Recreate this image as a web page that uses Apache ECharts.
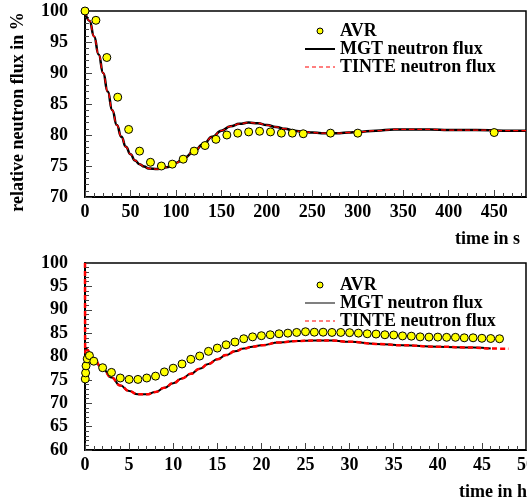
<!DOCTYPE html>
<html><head><meta charset="utf-8">
<script src="https://cdn.jsdelivr.net/npm/echarts@6/dist/echarts.min.js"></script>
<style>html,body{margin:0;padding:0;background:#fff}#c{width:527px;height:502px}</style>
</head><body><div id="c"></div>
<script>
// ---- top panel (time in s) ----
const topAvrTime = [0,12,24,36,48,60,72,84,96,108,120,132,144,156,168,180,192,204,216,228,240,270,300,450];
const topAvrFlux = [100,98.5,92.5,86.1,80.9,77.4,75.6,75.0,75.3,76.1,77.4,78.3,79.3,80.0,80.3,80.5,80.6,80.5,80.3,80.3,80.2,80.3,80.3,80.4];
const topMgtTime = [0,5,10,15,20,25,30,35,40,45,50,55,60,65,70,80,90,100,110,120,130,140,150,160,170,180,190,200,210,220,230,240,250,260,270,280,290,300,320,340,360,380,400,430,460,485];
const topMgtFlux = [100,98.4,95.9,93.0,90.0,87.0,84.0,81.6,79.7,78.1,76.9,75.9,75.3,74.9,74.6,74.5,74.8,75.5,76.4,77.4,78.5,79.7,80.7,81.4,81.8,82.0,81.9,81.6,81.3,81.0,80.7,80.5,80.4,80.3,80.3,80.3,80.4,80.5,80.7,80.9,80.9,80.9,80.8,80.8,80.7,80.7];
const topTinteTime = [0,5,10,15,20,25,30,35,40,45,50,55,60,65,70,80,90,100,110,120,130,140,150,160,170,180,190,200,210,220,230,240,250,260,270,280,290,300,320,340,360,380,400,430,460,485];
const topTinteFlux = [100,98.4,95.9,93.0,90.0,87.0,84.0,81.6,79.7,78.1,76.9,75.9,75.3,74.9,74.6,74.5,74.8,75.5,76.4,77.4,78.5,79.7,80.7,81.4,81.8,82.0,81.9,81.6,81.3,81.0,80.7,80.5,80.4,80.3,80.3,80.3,80.4,80.5,80.7,80.9,80.9,80.9,80.8,80.8,80.7,80.7];

// ---- bottom panel (time in h) ----
const botAvrTime = [0.03,0.07,0.12,0.25,0.5,1,2,3,4,5,6,7,8,9,10,11,12,13,14,15,16,17,18,19,20,21,22,23,24,25,26,27,28,29,30,31,32,33,34,35,36,37,38,39,40,41,42,43,44,45,46,47];
const botAvrFlux = [75.2,76.5,78.0,79.5,80.2,79.0,77.6,76.6,75.4,75.1,75.1,75.4,75.8,76.7,77.5,78.4,79.4,80.1,81.1,81.8,82.5,83.1,83.8,84.2,84.45,84.65,84.86,85.0,85.15,85.3,85.2,85.2,85.15,85.15,85.1,85.0,84.86,84.8,84.65,84.6,84.4,84.35,84.2,84.15,84.15,84.1,84.1,84.0,84.0,83.9,83.85,83.8];
const botMgtTime = [0,0.1,0.3,0.6,1,2,3,4,5,6,7,8,9,10,11,12,13,14,15,16,17,18,19,20,22,24,26,28,30,33,36,40,44,46];
const botMgtFlux = [81.0,81.8,81.4,80.4,79.3,77.4,75.5,73.8,72.6,71.9,71.9,72.4,73.3,74.3,75.3,76.3,77.4,78.4,79.4,80.3,81.1,81.7,82.1,82.4,83.0,83.3,83.4,83.4,83.15,82.7,82.4,82.1,81.9,81.7];
const botTinteTime = [0,0.02,0.1,0.3,0.6,1,2,3,4,5,6,7,8,9,10,11,12,13,14,15,16,17,18,19,20,22,24,26,28,30,33,36,40,44,46,48];
const botTinteFlux = [100,80.8,81.8,81.4,80.4,79.3,77.4,75.5,73.8,72.6,71.9,71.9,72.4,73.3,74.3,75.3,76.3,77.4,78.4,79.4,80.3,81.1,81.7,82.1,82.4,83.0,83.3,83.4,83.4,83.15,82.7,82.4,82.1,81.9,81.7,81.65];

const seriesNames = ['AVR','MGT neutron flux','TINTE neutron flux'];
const F = '"Liberation Serif", serif';
const pairs = (xs, ys) => xs.map((x, i) => [x, ys[i]]);
const txt = {fontFamily: F, fontWeight: 'bold', fontSize: 18, color: '#000'};
const tickCol = '#444';
const solidIcon = 'path://M0,0h30v2h-30z';
const thinIcon = 'path://M0,0h30v1h-30z';
const dashIcon = 'path://M0,0h4v1h-4z M7,0h4v1h-4z M14,0h4v1h-4z M21,0h4v1h-4z M28,0h2v1h-2z';

function yAxisCfg(grid, min, max, name) {
  const a = {
    gridIndex: grid, type: 'value', min: min, max: max, interval: 5,
    axisLine: {show: true, lineStyle: {color: '#000', width: 2}},
    axisTick: {show: true, inside: true, length: 7, lineStyle: {color: tickCol, width: 1}},
    minorTick: {show: true, splitNumber: 5, length: 4, lineStyle: {color: tickCol, width: 1}},
    splitLine: {show: false}, minorSplitLine: {show: false},
    axisLabel: Object.assign({margin: 17}, txt)
  };
  if (name) {
    a.name = name; a.nameLocation = 'middle'; a.nameGap = 58;
    a.nameTextStyle = Object.assign({}, txt, {padding: [0, 16, 0, 0]});
  }
  return a;
}

function legendCfg(top, mgtIcon) {
  return {
    orient: 'vertical', left: 300, top: top, itemWidth: 30, itemHeight: 6, itemGap: 0, selectedMode: false,
    textStyle: Object.assign({lineHeight: 18}, txt),
    data: [
      {name: seriesNames[0], icon: 'circle', itemStyle: {color: '#ffff00', borderColor: '#000', borderWidth: 1}},
      {name: seriesNames[1], icon: mgtIcon, itemStyle: {color: '#000', borderWidth: 0}},
      {name: seriesNames[2], icon: dashIcon, itemStyle: {color: '#ff0000', borderWidth: 0}}
    ]
  };
}

const option = {
  animation: false,
  backgroundColor: '#fff',
  grid: [
    {left: 85, top: 11, width: 441, height: 186, show: true, borderColor: '#000', borderWidth: 1.5, backgroundColor: 'transparent', containLabel: false, outerBoundsMode: 'none'},
    {left: 85, top: 263, width: 441, height: 187, show: true, borderColor: '#000', borderWidth: 1.5, backgroundColor: 'transparent', containLabel: false, outerBoundsMode: 'none'}
  ],
  xAxis: [
    {gridIndex: 0, type: 'value', min: 0, max: 485, interval: 50, position: 'bottom',
     axisLine: {show: true, lineStyle: {color: '#000', width: 2}},
     axisTick: {show: true, inside: true, length: 7, lineStyle: {color: tickCol, width: 1}},
     splitLine: {show: false},
     axisLabel: Object.assign({margin: 6, showMaxLabel: false}, txt),
     name: 'time in s', nameLocation: 'end', nameGap: -6,
     nameTextStyle: Object.assign({align: 'right', verticalAlign: 'top', padding: [33, 0, 0, 0]}, txt)},
    {gridIndex: 0, type: 'value', min: 0, max: 485, interval: 10, position: 'bottom',
     axisLine: {show: false},
     axisTick: {show: true, inside: true, length: 4, lineStyle: {color: tickCol, width: 1}},
     splitLine: {show: false}, axisLabel: {show: false}},
    {gridIndex: 1, type: 'value', min: 0, max: 50, interval: 5, position: 'bottom',
     axisLine: {show: true, lineStyle: {color: '#000', width: 2}},
     axisTick: {show: true, inside: true, length: 7, lineStyle: {color: tickCol, width: 1}},
     minorTick: {show: true, splitNumber: 5, length: 4, lineStyle: {color: tickCol, width: 1}},
     splitLine: {show: false}, minorSplitLine: {show: false},
     axisLabel: Object.assign({margin: 6}, txt),
     name: 'time in h', nameLocation: 'end', nameGap: 1,
     nameTextStyle: Object.assign({align: 'right', verticalAlign: 'top', padding: [33, 0, 0, 0]}, txt)}
  ],
  yAxis: [
    yAxisCfg(0, 70, 100, 'relative neutron flux in %'),
    yAxisCfg(1, 60, 100, null)
  ],
  legend: [legendCfg(17, solidIcon), legendCfg(271, thinIcon)],
  series: [
    {name: seriesNames[1], type: 'line', xAxisIndex: 0, yAxisIndex: 0, data: pairs(topMgtTime, topMgtFlux),
     symbol: 'none', smooth: true, smoothMonotone: 'x', z: 3,
     lineStyle: {color: '#000', width: 2.5}, itemStyle: {color: '#000'}},
    {name: seriesNames[2], type: 'line', xAxisIndex: 0, yAxisIndex: 0, data: pairs(topTinteTime, topTinteFlux),
     symbol: 'none', smooth: true, smoothMonotone: 'x', z: 4,
     lineStyle: {color: '#ff0000', width: 1.3, type: [5, 3]}, itemStyle: {color: '#ff0000'}},
    {name: seriesNames[0], type: 'scatter', xAxisIndex: 0, yAxisIndex: 0, data: pairs(topAvrTime, topAvrFlux),
     symbol: 'circle', symbolSize: 8, z: 5,
     itemStyle: {color: '#ffff00', borderColor: '#000', borderWidth: 1, opacity: 1}},
    {name: seriesNames[1], type: 'line', xAxisIndex: 2, yAxisIndex: 1, data: pairs(botMgtTime, botMgtFlux),
     symbol: 'none', smooth: true, smoothMonotone: 'x', z: 3,
     lineStyle: {color: '#000', width: 2}, itemStyle: {color: '#000'}},
    {name: seriesNames[2], type: 'line', xAxisIndex: 2, yAxisIndex: 1, data: pairs(botTinteTime, botTinteFlux),
     symbol: 'none', smooth: true, smoothMonotone: 'x', z: 4,
     lineStyle: {color: '#ff0000', width: 2.5, type: [5, 3]}, itemStyle: {color: '#ff0000'}},
    {name: seriesNames[0], type: 'scatter', xAxisIndex: 2, yAxisIndex: 1, data: pairs(botAvrTime, botAvrFlux),
     symbol: 'circle', symbolSize: 8, z: 5,
     itemStyle: {color: '#ffff00', borderColor: '#000', borderWidth: 1, opacity: 1}}
  ]
};
const chart = echarts.init(document.getElementById('c'), null, {renderer: 'canvas'});
chart.setOption(option);
</script></body></html>
